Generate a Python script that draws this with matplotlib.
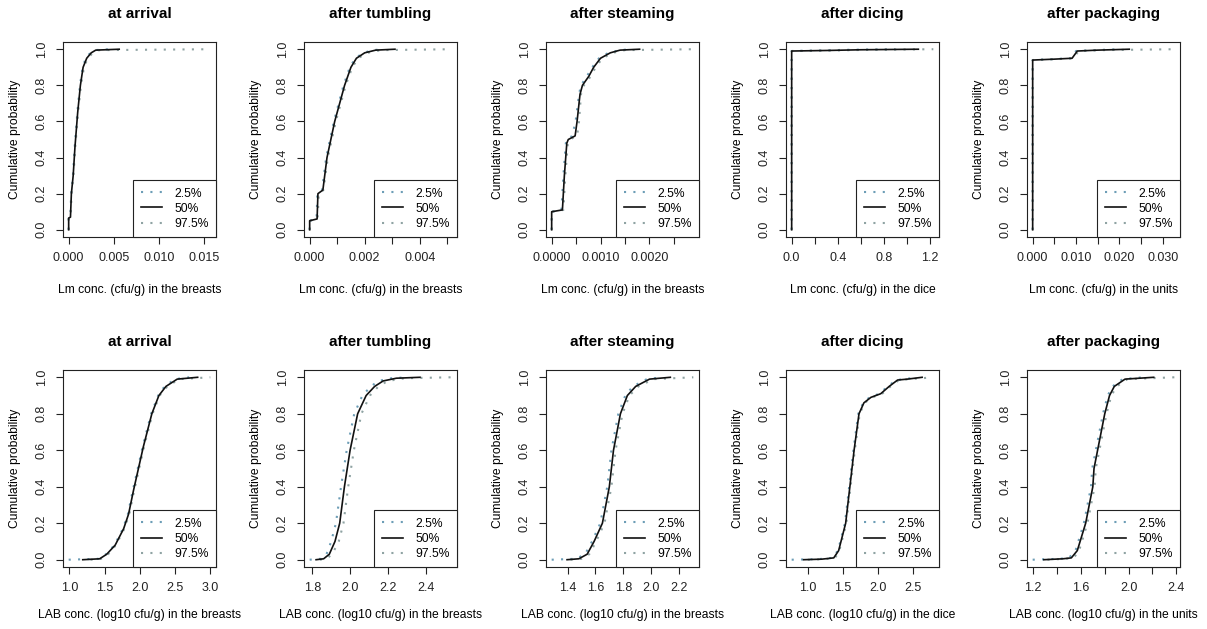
import matplotlib
matplotlib.use("Agg")
import matplotlib.pyplot as plt

plt.rcParams['font.family'] = ['Liberation Sans', 'DejaVu Sans']

# ---- Lm (cfu/g), top row ----
lm_arrival_p = [0, 0.065, 0.07, 0.2, 0.25, 0.3, 0.46, 0.65, 0.8, 0.9, 0.95, 0.98, 0.995, 1.0]
lm_arrival_lo = [0, 0, 0.00018, 0.00028, 0.00038, 0.00047, 0.00067, 0.00096, 0.00125, 0.00155, 0.0019, 0.0024, 0.0029, 0.0045]
lm_arrival_med = [0, 0, 0.0002, 0.0003, 0.0004, 0.0005, 0.0007, 0.001, 0.0013, 0.0016, 0.002, 0.0025, 0.003, 0.0056]
lm_arrival_hi = [0, 0, 0.00022, 0.00032, 0.00042, 0.00053, 0.00073, 0.00105, 0.00136, 0.0017, 0.0021, 0.0027, 0.0034, 0.0157]

lm_tumbling_p = [0, 0.05, 0.06, 0.2, 0.22, 0.4, 0.6, 0.8, 0.9, 0.95, 0.98, 0.995, 1.0]
lm_tumbling_lo = [0, 0, 0.00025, 0.00028, 0.00045, 0.0006, 0.00088, 0.00123, 0.00146, 0.00166, 0.00195, 0.0023, 0.0027]
lm_tumbling_med = [0, 0, 0.00027, 0.0003, 0.00048, 0.00063, 0.00091, 0.00127, 0.0015, 0.0017, 0.002, 0.0024, 0.0031]
lm_tumbling_hi = [0, 0, 0.00029, 0.00033, 0.0005, 0.00066, 0.00095, 0.00131, 0.00155, 0.00176, 0.0021, 0.0026, 0.00515]

lm_steaming_p = [0, 0.1, 0.11, 0.3, 0.48, 0.5, 0.52, 0.6, 0.75, 0.8, 0.85, 0.9, 0.95, 0.98, 0.995, 1.0]
lm_steaming_lo = [0, 0, 0.0002, 0.00024, 0.00029, 0.00031, 0.00042, 0.00049, 0.00056, 0.0006, 0.00072, 0.00083, 0.00097, 0.00116, 0.0014, 0.0016]
lm_steaming_med = [0, 0, 0.00022, 0.00026, 0.00031, 0.00034, 0.00048, 0.00052, 0.00058, 0.00063, 0.00076, 0.00086, 0.001, 0.0012, 0.0014, 0.0018]
lm_steaming_hi = [0, 0, 0.00024, 0.00028, 0.00033, 0.00037, 0.00052, 0.00056, 0.0006, 0.00066, 0.0008, 0.0009, 0.00104, 0.00125, 0.0015, 0.0029]

lm_dicing_p = [0, 0.99, 0.993, 0.997, 1.0]
lm_dicing_lo = [0, 0, 0.25, 0.5, 0.9]
lm_dicing_med = [0, 0, 0.3, 0.6, 1.1]
lm_dicing_hi = [0, 0, 0.35, 0.7, 1.23]

lm_packaging_p = [0, 0.94, 0.945, 0.95, 0.99, 0.995, 1.0]
lm_packaging_lo = [0, 0, 0.0045, 0.0088, 0.0100, 0.014, 0.02]
lm_packaging_med = [0, 0, 0.005, 0.0091, 0.0103, 0.015, 0.0223]
lm_packaging_hi = [0, 0, 0.0055, 0.0094, 0.0106, 0.016, 0.0327]

# ---- LAB (log10 cfu/g), bottom row ----
lab_arrival_p = [0, 0.005, 0.03, 0.08, 0.17, 0.25, 0.38, 0.5, 0.62, 0.8, 0.9, 0.95, 0.99, 1.0]
lab_arrival_lo = [0.99, 1.41, 1.52, 1.64, 1.76, 1.83, 1.90, 1.97, 2.04, 2.16, 2.26, 2.35, 2.50, 2.70]
lab_arrival_med = [1.19, 1.43, 1.53, 1.65, 1.77, 1.84, 1.91, 1.98, 2.05, 2.17, 2.27, 2.37, 2.53, 2.82]
lab_arrival_hi = [1.30, 1.45, 1.55, 1.66, 1.78, 1.85, 1.92, 1.99, 2.06, 2.18, 2.28, 2.39, 2.56, 3.0]

lab_tumbling_p = [0, 0.005, 0.03, 0.1, 0.2, 0.4, 0.5, 0.6, 0.8, 0.9, 0.95, 0.98, 0.995, 1.0]
lab_tumbling_lo = [1.786, 1.845, 1.875, 1.90, 1.925, 1.952, 1.967, 1.982, 2.022, 2.065, 2.11, 2.15, 2.22, 2.30]
lab_tumbling_med = [1.82, 1.86, 1.89, 1.92, 1.945, 1.97, 1.985, 2.0, 2.04, 2.085, 2.13, 2.175, 2.245, 2.37]
lab_tumbling_hi = [1.84, 1.875, 1.905, 1.94, 1.965, 1.99, 2.005, 2.02, 2.06, 2.105, 2.15, 2.20, 2.29, 2.536]

lab_steaming_p = [0, 0.005, 0.03, 0.1, 0.2, 0.4, 0.5, 0.6, 0.8, 0.9, 0.95, 0.99, 1.0]
lab_steaming_lo = [1.284, 1.46, 1.525, 1.575, 1.635, 1.685, 1.70, 1.715, 1.765, 1.815, 1.87, 1.97, 2.08]
lab_steaming_med = [1.395, 1.48, 1.54, 1.59, 1.65, 1.70, 1.715, 1.73, 1.78, 1.83, 1.89, 1.99, 2.14]
lab_steaming_hi = [1.42, 1.50, 1.555, 1.605, 1.665, 1.715, 1.73, 1.745, 1.795, 1.845, 1.91, 2.02, 2.306]

lab_dicing_p = [0, 0.003, 0.01, 0.05, 0.2, 0.5, 0.6, 0.8, 0.86, 0.89, 0.91, 0.95, 0.985, 0.99, 1.0]
lab_dicing_lo = [0.77, 1.15, 1.35, 1.43, 1.53, 1.62, 1.65, 1.72, 1.79, 1.88, 2.02, 2.14, 2.26, 2.38, 2.55]
lab_dicing_med = [0.94, 1.2, 1.37, 1.44, 1.54, 1.63, 1.66, 1.73, 1.8, 1.9, 2.04, 2.16, 2.28, 2.42, 2.63]
lab_dicing_hi = [1.0, 1.25, 1.39, 1.45, 1.55, 1.64, 1.67, 1.74, 1.81, 1.92, 2.06, 2.18, 2.30, 2.46, 2.79]

lab_packaging_p = [0, 0.005, 0.01, 0.05, 0.2, 0.4, 0.5, 0.6, 0.8, 0.9, 0.95, 0.99, 1.0]
lab_packaging_lo = [1.196, 1.42, 1.50, 1.555, 1.625, 1.685, 1.695, 1.725, 1.785, 1.825, 1.865, 1.95, 2.12]
lab_packaging_med = [1.29, 1.45, 1.52, 1.57, 1.64, 1.70, 1.71, 1.74, 1.80, 1.84, 1.88, 1.97, 2.21]
lab_packaging_hi = [1.32, 1.47, 1.54, 1.585, 1.655, 1.715, 1.725, 1.755, 1.815, 1.855, 1.90, 1.99, 2.383]

titles = ["at arrival", "after tumbling", "after steaming", "after dicing", "after packaging"]
lm_xlabels = ["Lm conc. (cfu/g) in the breasts"] * 3 + ["Lm conc. (cfu/g) in the dice",
                                                        "Lm conc. (cfu/g) in the units"]
lab_xlabels = ["LAB conc. (log10 cfu/g) in the breasts"] * 3 + ["LAB conc. (log10 cfu/g) in the dice",
                                                                "LAB conc. (log10 cfu/g) in the units"]
legend_labels = ["2.5%", "50%", "97.5%"]
y_ticks = [0.0, 0.2, 0.4, 0.6, 0.8, 1.0]

# x ticks and their labels (blank = tick without label, as R drops them)
lm_xticks = [
    ([0, 0.005, 0.010, 0.015], ["0.000", "0.005", "0.010", "0.015"]),
    ([0, 0.001, 0.002, 0.003, 0.004, 0.005], ["0.000", "", "0.002", "", "0.004", ""]),
    ([0, 0.0005, 0.001, 0.0015, 0.002, 0.0025], ["0.0000", "", "0.0010", "", "0.0020", ""]),
    ([0, 0.2, 0.4, 0.6, 0.8, 1.0, 1.2], ["0.0", "", "0.4", "", "0.8", "", "1.2"]),
    ([0, 0.005, 0.01, 0.015, 0.02, 0.025, 0.03], ["0.000", "", "0.010", "", "0.020", "", "0.030"]),
]
lab_xticks = [
    ([1.0, 1.5, 2.0, 2.5, 3.0], ["1.0", "1.5", "2.0", "2.5", "3.0"]),
    ([1.8, 2.0, 2.2, 2.4], ["1.8", "2.0", "2.2", "2.4"]),
    ([1.4, 1.6, 1.8, 2.0, 2.2], ["1.4", "1.6", "1.8", "2.0", "2.2"]),
    ([1.0, 1.5, 2.0, 2.5], ["1.0", "1.5", "2.0", "2.5"]),
    ([1.2, 1.4, 1.6, 1.8, 2.0, 2.2, 2.4], ["1.2", "", "1.6", "", "2.0", "", "2.4"]),
]

lm_curves = [
    (lm_arrival_p, lm_arrival_lo, lm_arrival_med, lm_arrival_hi),
    (lm_tumbling_p, lm_tumbling_lo, lm_tumbling_med, lm_tumbling_hi),
    (lm_steaming_p, lm_steaming_lo, lm_steaming_med, lm_steaming_hi),
    (lm_dicing_p, lm_dicing_lo, lm_dicing_med, lm_dicing_hi),
    (lm_packaging_p, lm_packaging_lo, lm_packaging_med, lm_packaging_hi),
]
lab_curves = [
    (lab_arrival_p, lab_arrival_lo, lab_arrival_med, lab_arrival_hi),
    (lab_tumbling_p, lab_tumbling_lo, lab_tumbling_med, lab_tumbling_hi),
    (lab_steaming_p, lab_steaming_lo, lab_steaming_med, lab_steaming_hi),
    (lab_dicing_p, lab_dicing_lo, lab_dicing_med, lab_dicing_hi),
    (lab_packaging_p, lab_packaging_lo, lab_packaging_med, lab_packaging_hi),
]

# layout (pixels)
W, H = 1207, 629
lefts = [63, 304, 546, 786, 1027]
box_w = 153
row_top = [42, 370]
row_bottom = [237, 567]
xlabel_off = [53, 48]

col_lo = "#6c9db6"
col_hi = "#8fa3a3"
dots = (0, (1, 3.5))
FS = 8.7

fig = plt.figure(figsize=(W / 100, H / 100), dpi=100)

for r, (curves, xlabels, xticks) in enumerate([(lm_curves, lm_xlabels, lm_xticks),
                                               (lab_curves, lab_xlabels, lab_xticks)]):
    for c in range(5):
        p, lo, med, hi = curves[c]
        ax = fig.add_axes([lefts[c] / W, 1 - row_bottom[r] / H,
                           box_w / W, (row_bottom[r] - row_top[r]) / H])
        h1, = ax.plot(lo, p, color=col_lo, lw=1.5, ls=dots, zorder=2)
        h3, = ax.plot(hi, p, color=col_hi, lw=1.5, ls=dots, zorder=2)
        h2, = ax.plot(med, p, color="#111111", lw=1.2, zorder=3)

        # R style axis range: data range + 4%
        xmin, xmax = min(lo + med), max(hi + med)
        pad = 0.04 * (xmax - xmin)
        ax.set_xlim(xmin - pad, xmax + pad)
        ax.set_ylim(-0.04, 1.04)

        ax.set_xticks(xticks[c][0])
        ax.set_xticklabels(xticks[c][1])
        ax.set_yticks(y_ticks)
        ax.set_yticklabels([f"{v:.1f}" for v in y_ticks], rotation=90, va="center")
        ax.tick_params(direction="out", length=5, width=0.8, pad=6, labelsize=9,
                       colors="#222222")
        for s in ax.spines.values():
            s.set_linewidth(0.8)
            s.set_color("#222222")

        ax.annotate(titles[c], xy=(0.5, 1), xycoords="axes fraction", xytext=(0, 28),
                    textcoords="offset pixels", ha="center", va="center",
                    fontsize=11, fontweight="bold")
        ax.annotate(xlabels[c], xy=(0.5, 0), xycoords="axes fraction",
                    xytext=(0, -xlabel_off[r]), textcoords="offset pixels",
                    ha="center", va="center", fontsize=FS)
        ax.annotate("Cumulative probability", xy=(0, 0.5), xycoords="axes fraction",
                    xytext=(-48, 0), textcoords="offset pixels", ha="center",
                    va="center", rotation=90, fontsize=FS)

        leg = ax.legend([h1, h2, h3], legend_labels, loc="lower right", borderaxespad=0,
                        fontsize=FS, handlelength=1.8, handletextpad=1.0,
                        labelspacing=0.25, borderpad=0.6, fancybox=False,
                        framealpha=1, edgecolor="#222222")
        leg.get_frame().set_linewidth(0.8)

fig.savefig("out.png", dpi=100)
